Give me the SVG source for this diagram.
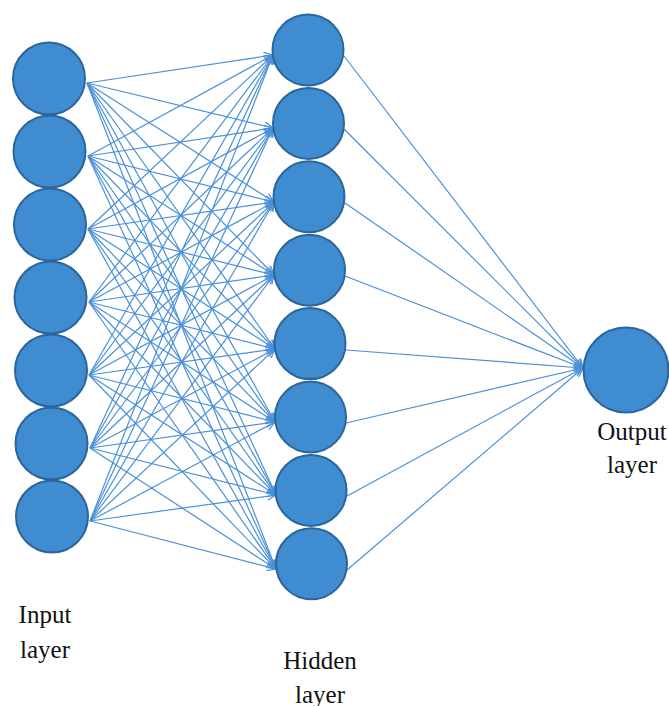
<svg xmlns="http://www.w3.org/2000/svg" width="669" height="706" viewBox="0 0 669 706">
<style>
.n{fill:#3f8dd0;stroke:#2b659c;stroke-width:2}
.c line{stroke:#4a90d8;stroke-width:1.2;marker-end:url(#ah)}
.t{font-family:"Liberation Serif","Times New Roman",serif;font-size:25px;fill:#111;text-anchor:middle}
</style>
<defs>
<marker id="ah" markerWidth="12" markerHeight="10" refX="10" refY="5" orient="auto" markerUnits="userSpaceOnUse">
<path d="M1,1 L10,5 L1,9" fill="none" stroke="#4a90d8" stroke-width="1.2"/>
</marker>
</defs>
<rect width="669" height="706" fill="#fff"/>
<g id="connectors" class="c">
<line x1="87" y1="83" x2="273" y2="55"/><line x1="87" y1="83" x2="273" y2="128"/><line x1="87" y1="83" x2="274" y2="202"/><line x1="87" y1="83" x2="274" y2="275"/><line x1="87" y1="83" x2="275" y2="349"/><line x1="87" y1="83" x2="275" y2="422"/><line x1="87" y1="83" x2="276" y2="495"/><line x1="87" y1="83" x2="276" y2="569"/>
<line x1="88" y1="156" x2="273" y2="55"/><line x1="88" y1="156" x2="273" y2="128"/><line x1="88" y1="156" x2="274" y2="202"/><line x1="88" y1="156" x2="274" y2="275"/><line x1="88" y1="156" x2="275" y2="349"/><line x1="88" y1="156" x2="275" y2="422"/><line x1="88" y1="156" x2="276" y2="495"/><line x1="88" y1="156" x2="276" y2="569"/>
<line x1="88" y1="229" x2="273" y2="55"/><line x1="88" y1="229" x2="273" y2="128"/><line x1="88" y1="229" x2="274" y2="202"/><line x1="88" y1="229" x2="274" y2="275"/><line x1="88" y1="229" x2="275" y2="349"/><line x1="88" y1="229" x2="275" y2="422"/><line x1="88" y1="229" x2="276" y2="495"/><line x1="88" y1="229" x2="276" y2="569"/>
<line x1="89" y1="302" x2="273" y2="55"/><line x1="89" y1="302" x2="273" y2="128"/><line x1="89" y1="302" x2="274" y2="202"/><line x1="89" y1="302" x2="274" y2="275"/><line x1="89" y1="302" x2="275" y2="349"/><line x1="89" y1="302" x2="275" y2="422"/><line x1="89" y1="302" x2="276" y2="495"/><line x1="89" y1="302" x2="276" y2="569"/>
<line x1="89" y1="375" x2="273" y2="55"/><line x1="89" y1="375" x2="273" y2="128"/><line x1="89" y1="375" x2="274" y2="202"/><line x1="89" y1="375" x2="274" y2="275"/><line x1="89" y1="375" x2="275" y2="349"/><line x1="89" y1="375" x2="275" y2="422"/><line x1="89" y1="375" x2="276" y2="495"/><line x1="89" y1="375" x2="276" y2="569"/>
<line x1="90" y1="448" x2="273" y2="55"/><line x1="90" y1="448" x2="273" y2="128"/><line x1="90" y1="448" x2="274" y2="202"/><line x1="90" y1="448" x2="274" y2="275"/><line x1="90" y1="448" x2="275" y2="349"/><line x1="90" y1="448" x2="275" y2="422"/><line x1="90" y1="448" x2="276" y2="495"/><line x1="90" y1="448" x2="276" y2="569"/>
<line x1="90" y1="521" x2="273" y2="55"/><line x1="90" y1="521" x2="273" y2="128"/><line x1="90" y1="521" x2="274" y2="202"/><line x1="90" y1="521" x2="274" y2="275"/><line x1="90" y1="521" x2="275" y2="349"/><line x1="90" y1="521" x2="275" y2="422"/><line x1="90" y1="521" x2="276" y2="495"/><line x1="90" y1="521" x2="276" y2="569"/>
<line x1="344" y1="56" x2="583" y2="368"/><line x1="344" y1="129" x2="583" y2="368"/><line x1="345" y1="203" x2="583" y2="368"/><line x1="345" y1="276" x2="583" y2="368"/><line x1="346" y1="350" x2="583" y2="368"/><line x1="346" y1="423" x2="583" y2="368"/><line x1="347" y1="496" x2="583" y2="368"/><line x1="347" y1="570" x2="583" y2="368"/>
</g>
<g id="in1"><circle class="n" cx="49" cy="78.5" r="36"/></g>
<g id="in2"><circle class="n" cx="49.5" cy="151.5" r="36"/></g>
<g id="in3"><circle class="n" cx="50" cy="224.5" r="36"/></g>
<g id="in4"><circle class="n" cx="50.5" cy="297.5" r="36"/></g>
<g id="in5"><circle class="n" cx="51" cy="370.5" r="36"/></g>
<g id="in6"><circle class="n" cx="51.5" cy="443.5" r="36"/></g>
<g id="in7"><circle class="n" cx="52" cy="516.5" r="36"/></g>
<g id="h1"><circle class="n" cx="308" cy="50" r="35.5"/></g>
<g id="h2"><circle class="n" cx="308.5" cy="123.4" r="35.5"/></g>
<g id="h3"><circle class="n" cx="309" cy="196.8" r="35.5"/></g>
<g id="h4"><circle class="n" cx="309.5" cy="270.2" r="35.5"/></g>
<g id="h5"><circle class="n" cx="310" cy="343.6" r="35.5"/></g>
<g id="h6"><circle class="n" cx="310.5" cy="417" r="35.5"/></g>
<g id="h7"><circle class="n" cx="311" cy="490.4" r="35.5"/></g>
<g id="h8"><circle class="n" cx="311.5" cy="563.8" r="35.5"/></g>
<g id="out"><circle class="n" cx="626" cy="370" r="42.5"/></g>
<g id="labels">
<text class="t" x="45" y="623">Input</text>
<text class="t" x="45" y="658">layer</text>
<text class="t" x="320" y="669">Hidden</text>
<text class="t" x="320" y="703">layer</text>
<text class="t" x="632" y="440">Output</text>
<text class="t" x="632" y="473">layer</text>
</g>
</svg>
